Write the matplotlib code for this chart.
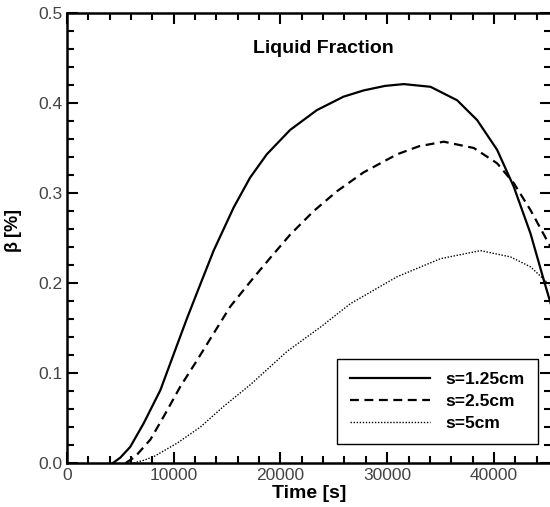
import matplotlib
matplotlib.use("Agg")
import matplotlib.pyplot as plt
from matplotlib.ticker import MultipleLocator

# liquid fraction vs time
t_125 = [4300, 5000, 5930, 7180, 8750, 10310, 11220, 12340, 13740, 15620, 17150,
         18720, 20900, 23400, 25900, 27800, 29800, 31560, 34060, 36560, 38430,
         40300, 41860, 43430, 44680, 45500]
b_125 = [0.0, 0.006, 0.018, 0.044, 0.081, 0.131, 0.160, 0.194, 0.236, 0.284, 0.317,
         0.343, 0.370, 0.392, 0.407, 0.414, 0.419, 0.421, 0.418, 0.403, 0.381,
         0.348, 0.307, 0.255, 0.203, 0.170]

t_25 = [5500, 6390, 7810, 9220, 10620, 12180, 13740, 15310, 17490, 19050, 20930,
        23120, 25300, 27800, 30930, 33000, 35300, 38120, 40300, 41860, 43430, 45500]
b_25 = [0.0, 0.007, 0.026, 0.055, 0.085, 0.114, 0.144, 0.174, 0.206, 0.228, 0.254,
        0.280, 0.302, 0.323, 0.343, 0.352, 0.357, 0.350, 0.333, 0.311, 0.281, 0.236]

t_5 = [6250, 7190, 8120, 10310, 12500, 14680, 17180, 20620, 23750, 26550, 30930,
       34990, 38740, 41550, 43430, 45500]
b_5 = [0.0, 0.003, 0.007, 0.022, 0.040, 0.063, 0.087, 0.124, 0.151, 0.177, 0.207,
       0.227, 0.236, 0.229, 0.218, 0.195]

labels = ["s=1.25cm", "s=2.5cm", "s=5cm"]

plt.rcParams['font.family'] = ['Liberation Sans', 'DejaVu Sans']

fig = plt.figure(figsize=(5.5, 5.07), dpi=100)
ax = fig.add_axes([67 / 550, 44 / 507, 484 / 550, 450 / 507])

ax.plot(t_125, b_125, color='k', lw=1.6, label=labels[0], solid_joinstyle='round')
ax.plot(t_25, b_25, color='k', lw=1.6, dashes=(4, 2.5), label=labels[1])
ax.plot(t_5, b_5, color='k', lw=1.0, dashes=(1, 1.2), label=labels[2])

ax.set_xlim(0, 45350)
ax.set_ylim(0, 0.5)
ax.xaxis.set_major_locator(MultipleLocator(10000))
ax.xaxis.set_minor_locator(MultipleLocator(2000))
ax.yaxis.set_major_locator(MultipleLocator(0.1))
ax.yaxis.set_minor_locator(MultipleLocator(0.02))
ax.yaxis.set_major_formatter(plt.FormatStrFormatter('%.1f'))

ax.tick_params(which='both', direction='in', top=True, right=True,
               width=1.5, colors='k', labelcolor='#444444', labelsize=12.5)
ax.tick_params(which='major', length=8)
ax.tick_params(which='minor', length=5)
for sp in ax.spines.values():
    sp.set_linewidth(1.8)

ax.set_xlabel('Time [s]', fontsize=14, fontweight='bold')
ax.xaxis.set_label_coords(0.5, -0.048)
ax.set_ylabel(r'$\mathregular{\beta}$ [%]', fontsize=13, fontweight='bold')
ax.yaxis.set_label_coords(-0.089, 0.516)

ax.text(0.529, 0.922, 'Liquid Fraction', transform=ax.transAxes, ha='center',
        va='center', fontsize=14, fontweight='bold')

leg = ax.legend(loc='upper left', bbox_to_anchor=(0.558, 0.232), frameon=True,
                fancybox=False, handlelength=4.6, handletextpad=0.9,
                labelspacing=0.4, borderpad=0.75, borderaxespad=0,
                prop={'weight': 'bold', 'size': 12.5})
leg.get_frame().set_edgecolor('k')
leg.get_frame().set_linewidth(1.0)
leg.get_frame().set_alpha(1)

fig.savefig('out.png', dpi=100)
